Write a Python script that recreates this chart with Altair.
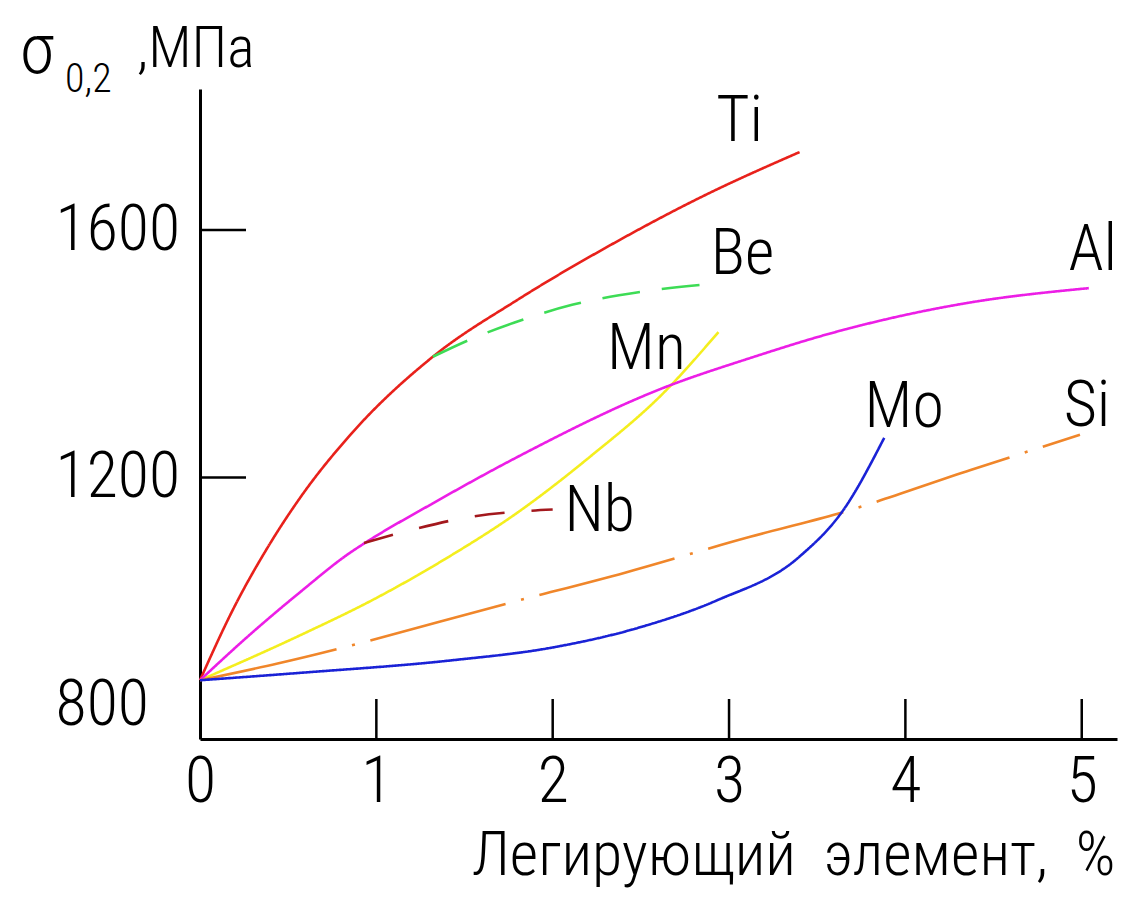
import altair as alt
import pandas as pd

# ---------------- data ----------------
ELEMENTS = ["Ti", "Be", "Mn", "Al", "Nb", "Si", "Mo"]

ti_x = [0, 0.19, 0.38, 0.57, 0.85, 1.32, 1.8, 2.33, 2.84, 3.4]
ti_y = [872, 988, 1085, 1168, 1268, 1395, 1487, 1576, 1653, 1726]

be_x = [1.32, 1.54, 1.78, 2.11, 2.5, 2.94]
be_y = [1395, 1424, 1450, 1479, 1500, 1514]

mn_x = [0, 0.57, 0.98, 1.39, 1.8, 2.21, 2.63, 2.94]
mn_y = [872, 945, 1002, 1068, 1143, 1233, 1337, 1435]

al_x = [0, 0.28, 0.57, 0.85, 0.93, 1.32, 1.8, 2.63, 3.12, 3.59, 4.35, 5.04]
al_y = [872, 945, 1015, 1078, 1093, 1158, 1233, 1345, 1393, 1434, 1482, 1506]

nb_x = [0.93, 1.2, 1.53, 1.87, 2.0]
nb_y = [1094, 1115, 1136, 1146, 1148]

si_x = [0, 0.44, 1.82, 2.41, 3.12, 3.59, 4.37, 4.99]
si_y = [872, 899, 1002, 1046, 1104, 1139, 1212, 1269]

mo_x = [0, 0.57, 1.42, 2.0, 2.5, 2.93, 3.4, 3.65, 3.88]
mo_y = [872, 884, 904, 925, 958, 1001, 1072, 1148, 1264]

x_tick_values = [1, 2, 3, 4, 5]
x_label_values = [0, 1, 2, 3, 4, 5]
y_tick_values = [1200, 1600]
y_label_values = [800, 1200, 1600]

x_title = "Легирующий\u00a0 элемент,\u00a0 %"
y_title_sigma = "σ"
y_title_sub = "0,2"
y_title_unit = ",МПа"

# ---------------- styles ----------------
COLORS = ["#e8211b", "#3ddc55", "#f4ee1e", "#ec1ee6", "#a3181d", "#f0862a", "#1a22d6"]
DASHES = [[1, 0], [38, 22], [1, 0], [1, 0], [30, 27], [140, 16, 3, 16], [1, 0]]
LABEL_OFFSETS = {
    "Ti": (-60, -30),
    "Be": (24, -28),
    "Mn": (-72, 18),
    "Al": (4, -37),
    "Nb": (47, 2),
    "Si": (7, -28),
    "Mo": (20, -30),
}
FONT = "Roboto Condensed, Roboto, sans-serif"
FW = 300
W, H = 917, 650

series = {
    "Ti": (ti_x, ti_y), "Be": (be_x, be_y), "Mn": (mn_x, mn_y), "Al": (al_x, al_y),
    "Nb": (nb_x, nb_y), "Si": (si_x, si_y), "Mo": (mo_x, mo_y),
}
rows = []
for name, (xs, ys) in series.items():
    for i, (xv, yv) in enumerate(zip(xs, ys)):
        rows.append({"element": name, "i": i, "x": xv, "y": yv})
df = pd.DataFrame(rows)
ends = pd.DataFrame([{"element": n, "x": xs[-1], "y": ys[-1]} for n, (xs, ys) in series.items()])

xscale = alt.Scale(domain=[0, 5.2], nice=False, zero=False)
yscale = alt.Scale(domain=[777, 1828], nice=False, zero=False)

xaxis = alt.Axis(
    values=x_label_values, format="d", ticks=False, tickSize=0, grid=False,
    domainColor="black", domainWidth=3,
    labelFont=FONT, labelFontSize=64, labelFontWeight=FW, labelColor="black", labelPadding=11,
    labelFlush=False, labelOverlap=False,
    title=x_title, titleFont=FONT, titleFontSize=62, titleFontWeight=FW,
    titleColor="black", titleX=W - 2, titleY=135, titleAlign="right",
    titleBaseline="alphabetic", titleAnchor="end",
)
yaxis = alt.Axis(
    values=y_label_values, format="d", ticks=False, tickSize=0, grid=False,
    domainColor="black", domainWidth=3,
    labelFont=FONT, labelFontSize=64, labelFontWeight=FW, labelColor="black", labelAlign="left",
    labelPadding=145, labelFlush=False, labelOverlap=False,
    labelOffset={"condition": {"test": "datum.value === 800", "value": -19}, "value": 0},
    title=None,
)

lines = alt.Chart(df).mark_line(strokeWidth=2.6, interpolate="monotone").encode(
    x=alt.X("x:Q", scale=xscale, axis=xaxis),
    y=alt.Y("y:Q", scale=yscale, axis=yaxis),
    color=alt.Color("element:N", scale=alt.Scale(domain=ELEMENTS, range=COLORS), legend=None),
    strokeDash=alt.StrokeDash("element:N", scale=alt.Scale(domain=ELEMENTS, range=DASHES), legend=None),
    order="i:Q",
)

yticks = alt.Chart(pd.DataFrame({"y": y_tick_values})).mark_rule(color="black", strokeWidth=2.5).encode(
    y=alt.Y("y:Q", scale=yscale, axis=yaxis),
    x=alt.value(0), x2=alt.value(46),
)
xticks = alt.Chart(pd.DataFrame({"x": x_tick_values})).mark_rule(color="black", strokeWidth=2.5).encode(
    x=alt.X("x:Q", scale=xscale, axis=xaxis),
    y=alt.value(H), y2=alt.value(H - 40),
)

label_layers = []
for name in ELEMENTS:
    dx, dy = LABEL_OFFSETS[name]
    label_layers.append(
        alt.Chart(ends).transform_filter(alt.datum.element == name)
        .mark_text(font=FONT, fontSize=64, fontWeight=FW, color="black", align="center",
                   baseline="middle", dx=dx, dy=dy)
        .encode(x=alt.X("x:Q", scale=xscale, axis=xaxis), y=alt.Y("y:Q", scale=yscale, axis=yaxis),
                text="element:N")
    )

def title_part(text, size, px, py):
    return alt.Chart(pd.DataFrame({"t": [text]})).mark_text(
        font=FONT, fontSize=size, fontWeight=FW, color="black", align="left", baseline="alphabetic"
    ).encode(x=alt.value(px), y=alt.value(py), text="t:N")

titles = [
    title_part(y_title_sigma, 70, -180, -16),
    title_part(y_title_sub, 40, -135, 3),
    title_part(y_title_unit, 58, -63, -22),
]

chart = alt.layer(lines, yticks, xticks, *label_layers, *titles).properties(
    width=W, height=H,
    autosize=alt.AutoSizeParams(type="none"),
    padding={"left": 192, "top": 81, "right": 5, "bottom": 150},
    background="white",
).configure_view(stroke=None)

chart.save("out.html", embed_options={"renderer": "svg", "actions": False})
